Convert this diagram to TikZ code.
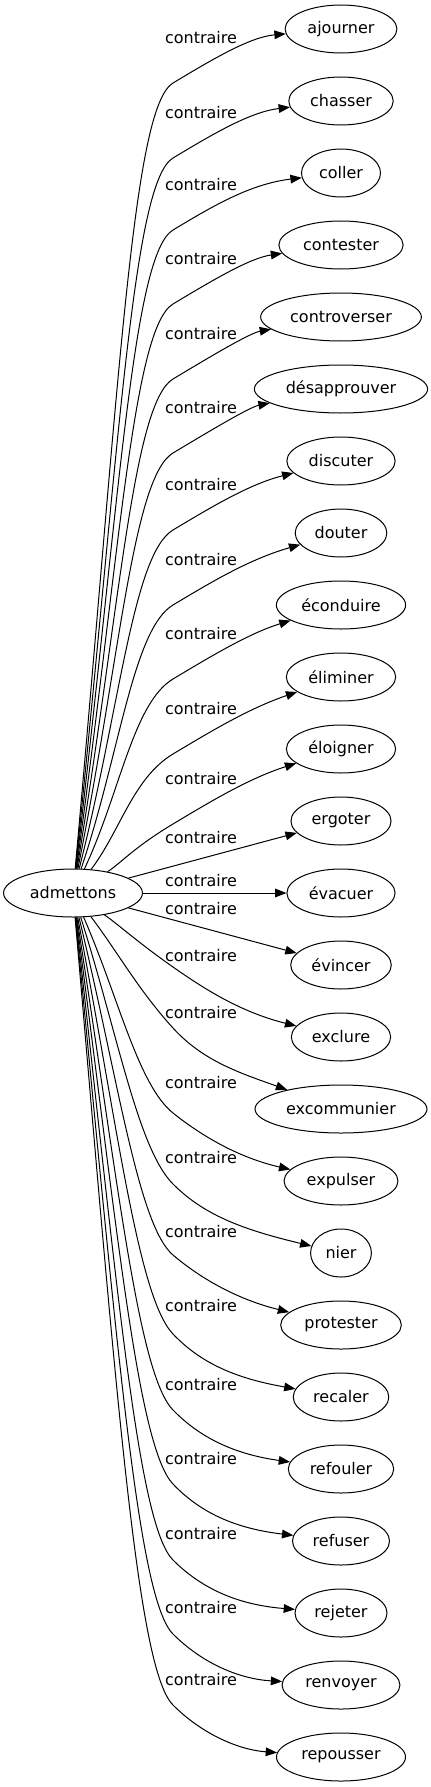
\documentclass[tikz,border=0pt]{standalone}
\usepackage{fontspec}
\setmainfont{DejaVu Sans}
\usetikzlibrary{arrows.meta,shapes.geometric}
\tikzset{
  word/.style={ellipse,draw,line width=0.75pt,inner xsep=4.5pt,
    minimum height=36pt,font=\fontsize{12}{14}\selectfont},
  lbl/.style={inner sep=0pt,font=\fontsize{12}{14}\selectfont},
  arr/.style={-{Triangle[length=8.5pt,width=6.5pt]},line width=0.75pt}
}

\begin{document}
\begin{tikzpicture}[x=0.75pt,y=-0.75pt]
  \useasboundingbox (0,0) rectangle (431,1787);
  \node[word] (src) at (73,893) {admettons};
  \foreach \w [count=\i from 0] in {ajourner,chasser,coller,contester,
      controverser,désapprouver,discuter,douter,éconduire,éliminer,éloigner,
      ergoter,évacuer,évincer,exclure,excommunier,expulser,nier,protester,
      recaler,refouler,refuser,rejeter,renvoyer,repousser}
    \node[word] (t\i) at (341,{29+72*\i}) {\w};
  % edges going up
  \foreach \i/\ly in {0/38,1/113,2/185,3/259,4/334,5/408,6/485,7/560,
      8/634,9/709,10/779} {
    \pgfmathsetmacro{\ky}{\ly+45}
    \pgfmathsetmacro{\dd}{893-\ky}
    \pgfmathsetmacro{\ay}{\ky+(0.6-0.25*\dd/830)*\dd}
    \draw[arr] (src) .. controls (120,\ay) and (133,{\ky+24}) .. (173,\ky)
      .. controls (213,{\ky-24}) and (250,{\ly-1}) .. (t\i);
    \node[lbl] (l\i) at (201,\ly) {contraire};
  }
  % nearly straight edges
  \foreach \i/\ly in {11/838,12/881,13/909} {
    \draw[arr] (src) -- (t\i);
    \node[lbl] (l\i) at (201,\ly) {contraire};
  }
  % edges going down
  \foreach \i/\ly/\k/\s in {14/956/11/0.7,15/1013/15/1.1,16/1083/30/0.8,
      17/1158/26/1,18/1232/23/0.85,19/1306/28/1.05,20/1385/25/1.03,
      21/1459/25/1.05,22/1534/26/1,23/1608/26/1,24/1680/25/1} {
    \pgfmathsetmacro{\ky}{\ly+\k}
    \pgfmathsetmacro{\dd}{\ky-893}
    \pgfmathsetmacro{\ay}{\ky-(0.6-0.25*\dd/830)*\dd}
    \draw[arr] (src) .. controls (118,\ay) and (138,{\ky-35*\s}) .. (173,\ky)
      .. controls (203,{\ky+30*\s}) and (240,{\ky+45}) .. (t\i);
    \node[lbl] (l\i) at (201,\ly) {contraire};
  }
\end{tikzpicture}
\end{document}
